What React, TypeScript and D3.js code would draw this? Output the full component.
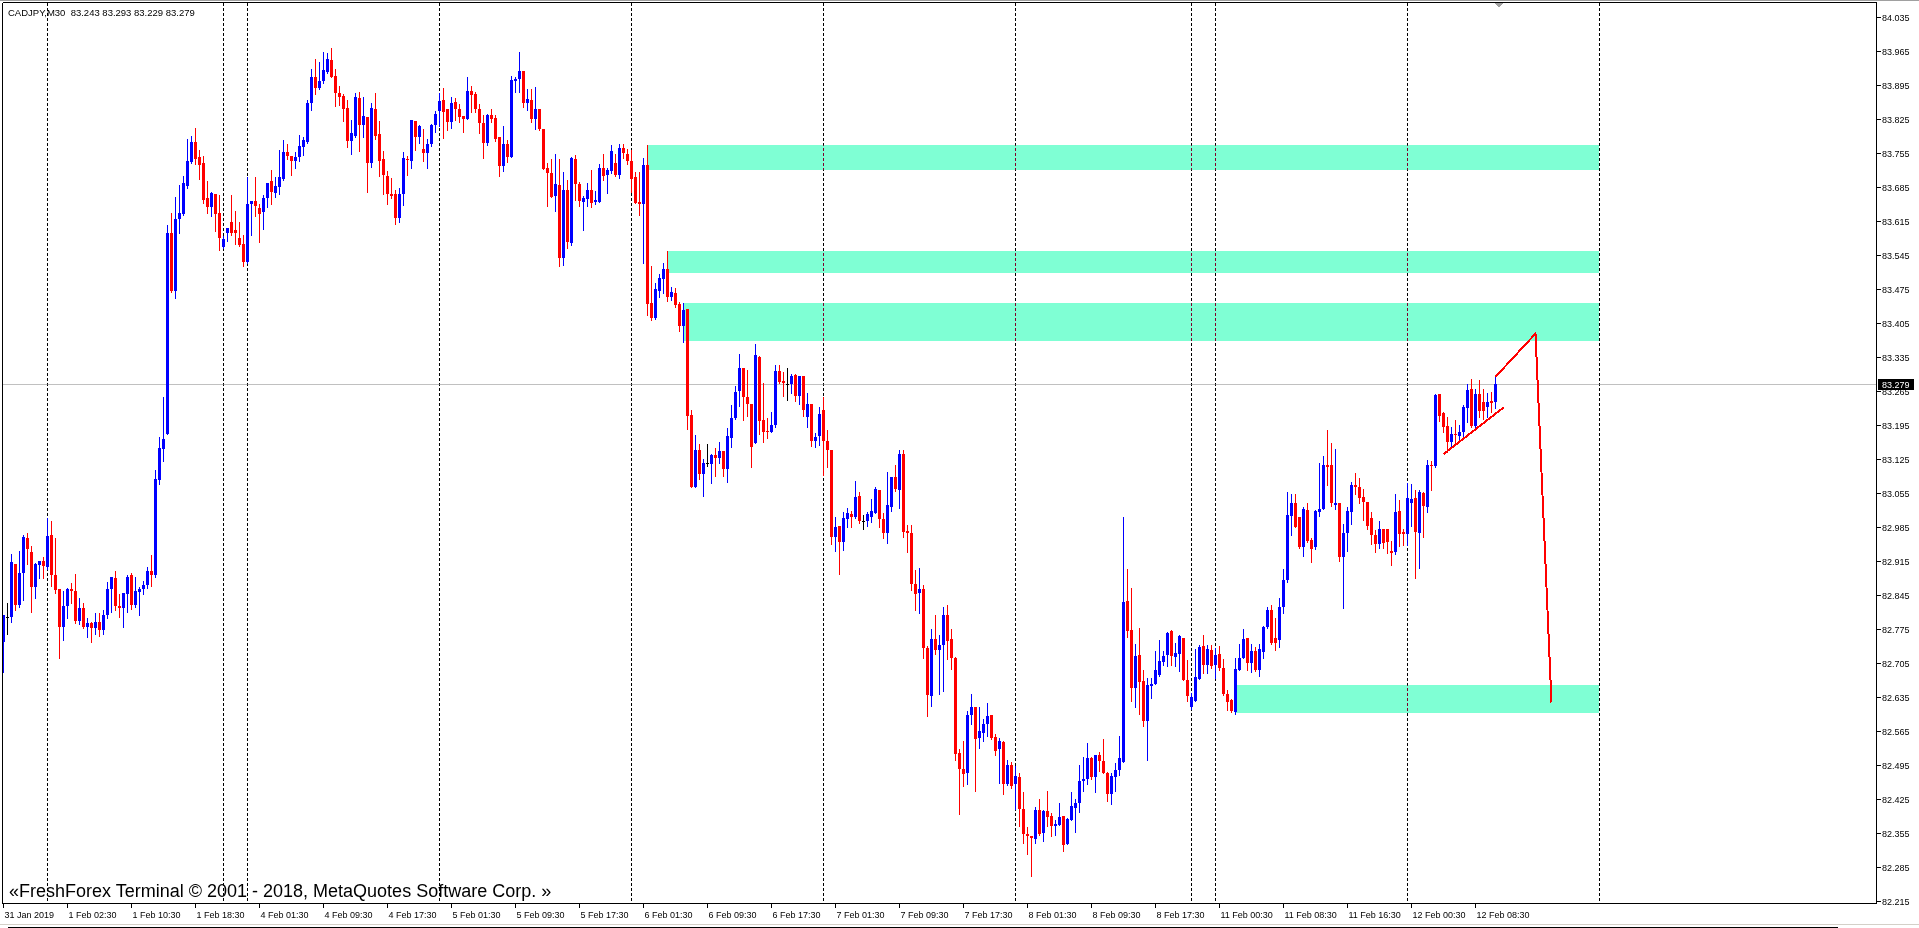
import React from "react";
import * as d3 from "d3";

const TITLE = "CADJPY,M30  83.243 83.293 83.229 83.279";
const WATERMARK = "«FreshForex Terminal © 2001 - 2018, MetaQuotes Software Corp. »";

// OHLC bars [open, high, low, close], M30, grouped by trading day
const BARS_31JAN = [
  [82.749, 82.805, 82.687, 82.805], [82.800, 82.829, 82.765, 82.800], [82.800, 82.930, 82.789, 82.913],
  [82.909, 82.909, 82.815, 82.824], [82.824, 82.935, 82.820, 82.890], [82.890, 82.968, 82.835, 82.965],
  [82.962, 82.973, 82.909, 82.939], [82.934, 82.945, 82.811, 82.862], [82.862, 82.911, 82.839, 82.909],
  [82.907, 82.915, 82.880, 82.915], [82.915, 82.923, 82.880, 82.905],
];
const BARS_01FEB = [
  [82.903, 83.003, 82.898, 82.967], [82.968, 82.998, 82.864, 82.886], [82.886, 82.962, 82.850, 82.856],
  [82.858, 82.858, 82.715, 82.779], [82.779, 82.853, 82.752, 82.823], [82.823, 82.860, 82.798, 82.858],
  [82.858, 82.870, 82.829, 82.854], [82.854, 82.888, 82.788, 82.792], [82.792, 82.839, 82.786, 82.818],
  [82.818, 82.829, 82.777, 82.779], [82.779, 82.797, 82.759, 82.788], [82.788, 82.789, 82.749, 82.777],
  [82.777, 82.809, 82.764, 82.789], [82.790, 82.809, 82.760, 82.773], [82.773, 82.815, 82.764, 82.805],
  [82.805, 82.871, 82.798, 82.858], [82.858, 82.883, 82.811, 82.883], [82.881, 82.894, 82.815, 82.823],
  [82.823, 82.847, 82.800, 82.819], [82.818, 82.849, 82.779, 82.849], [82.847, 82.886, 82.811, 82.883],
  [82.886, 82.890, 82.816, 82.824], [82.824, 82.883, 82.820, 82.853], [82.852, 82.862, 82.805, 82.858],
  [82.858, 82.875, 82.847, 82.865], [82.865, 82.903, 82.860, 82.894], [82.894, 82.928, 82.863, 82.886],
  [82.886, 83.103, 82.883, 83.084], [83.082, 83.170, 83.073, 83.148], [83.146, 83.253, 83.120, 83.167],
  [83.176, 83.607, 83.176, 83.590], [83.591, 83.632, 83.468, 83.470], [83.470, 83.664, 83.457, 83.618],
  [83.618, 83.688, 83.590, 83.632], [83.630, 83.707, 83.628, 83.692], [83.686, 83.784, 83.682, 83.738],
  [83.736, 83.789, 83.733, 83.777], [83.777, 83.805, 83.732, 83.743], [83.747, 83.760, 83.702, 83.730],
  [83.735, 83.748, 83.652, 83.658], [83.662, 83.696, 83.632, 83.643], [83.643, 83.675, 83.625, 83.672],
  [83.670, 83.670, 83.594, 83.630], [83.632, 83.668, 83.555, 83.579],
];
const BARS_03FEB = [
  [83.562, 83.584, 83.560, 83.578], [83.590, 83.600, 83.574, 83.600], [83.613, 83.668, 83.585, 83.591],
  [83.596, 83.636, 83.568, 83.589], [83.579, 83.613, 83.564, 83.566], [83.568, 83.585, 83.523, 83.530],
];
const BARS_04FEB = [
  [83.530, 83.705, 83.528, 83.649], [83.649, 83.655, 83.585, 83.655], [83.655, 83.705, 83.624, 83.645],
  [83.642, 83.649, 83.571, 83.630], [83.634, 83.668, 83.598, 83.662], [83.662, 83.692, 83.643, 83.692],
  [83.696, 83.719, 83.649, 83.675], [83.673, 83.705, 83.665, 83.686], [83.685, 83.760, 83.671, 83.705],
  [83.702, 83.782, 83.700, 83.756], [83.756, 83.773, 83.743, 83.748], [83.748, 83.748, 83.709, 83.739],
  [83.739, 83.756, 83.724, 83.746], [83.746, 83.792, 83.739, 83.769], [83.767, 83.787, 83.750, 83.782],
  [83.777, 83.863, 83.776, 83.857], [83.858, 83.927, 83.844, 83.911], [83.911, 83.948, 83.875, 83.888],
  [83.888, 83.942, 83.886, 83.903], [83.903, 83.963, 83.898, 83.925], [83.922, 83.961, 83.920, 83.948],
  [83.946, 83.971, 83.910, 83.911], [83.914, 83.927, 83.851, 83.878], [83.878, 83.892, 83.854, 83.869],
  [83.871, 83.875, 83.820, 83.845], [83.847, 83.863, 83.767, 83.779], [83.779, 83.822, 83.753, 83.796],
  [83.790, 83.878, 83.788, 83.869], [83.867, 83.880, 83.758, 83.813], [83.813, 83.869, 83.787, 83.830],
  [83.828, 83.828, 83.675, 83.733], [83.733, 83.858, 83.726, 83.847], [83.845, 83.878, 83.784, 83.790],
  [83.794, 83.820, 83.708, 83.739], [83.742, 83.759, 83.670, 83.709], [83.707, 83.717, 83.650, 83.670],
  [83.671, 83.704, 83.663, 83.666], [83.670, 83.678, 83.608, 83.621], [83.621, 83.682, 83.613, 83.671],
  [83.670, 83.756, 83.647, 83.745], [83.743, 83.749, 83.709, 83.741], [83.739, 83.822, 83.724, 83.822],
  [83.820, 83.820, 83.761, 83.788], [83.788, 83.812, 83.776, 83.810], [83.763, 83.804, 83.738, 83.755],
  [83.755, 83.783, 83.724, 83.774], [83.774, 83.814, 83.770, 83.812], [83.812, 83.840, 83.798, 83.835],
];
const BARS_05FEB = [
  [83.841, 83.877, 83.810, 83.862], [83.864, 83.888, 83.786, 83.838], [83.845, 83.845, 83.802, 83.819],
  [83.819, 83.870, 83.807, 83.858], [83.859, 83.867, 83.822, 83.845], [83.845, 83.855, 83.818, 83.829],
  [83.831, 83.831, 83.798, 83.824], [83.824, 83.910, 83.824, 83.882], [83.882, 83.893, 83.838, 83.874],
  [83.876, 83.881, 83.838, 83.845], [83.846, 83.855, 83.796, 83.817], [83.817, 83.833, 83.745, 83.776],
  [83.776, 83.835, 83.772, 83.833], [83.833, 83.846, 83.819, 83.824], [83.827, 83.833, 83.779, 83.783],
  [83.787, 83.788, 83.708, 83.728], [83.728, 83.810, 83.718, 83.774], [83.774, 83.781, 83.737, 83.747],
  [83.747, 83.912, 83.747, 83.905], [83.903, 83.910, 83.881, 83.906], [83.906, 83.962, 83.881, 83.923],
  [83.923, 83.923, 83.850, 83.857], [83.857, 83.886, 83.843, 83.865], [83.864, 83.886, 83.819, 83.824],
  [83.824, 83.890, 83.804, 83.845], [83.845, 83.846, 83.802, 83.804], [83.804, 83.804, 83.722, 83.722],
  [83.724, 83.735, 83.646, 83.714], [83.714, 83.742, 83.665, 83.665], [83.666, 83.752, 83.635, 83.691],
  [83.689, 83.742, 83.522, 83.539], [83.539, 83.715, 83.525, 83.678], [83.678, 83.699, 83.560, 83.572],
  [83.569, 83.747, 83.565, 83.745], [83.742, 83.750, 83.658, 83.691], [83.691, 83.695, 83.646, 83.656],
  [83.654, 83.667, 83.596, 83.663], [83.659, 83.692, 83.646, 83.678], [83.678, 83.719, 83.643, 83.652],
  [83.653, 83.676, 83.649, 83.658], [83.654, 83.731, 83.654, 83.724], [83.724, 83.752, 83.700, 83.708],
  [83.709, 83.724, 83.673, 83.719], [83.717, 83.771, 83.713, 83.759], [83.733, 83.752, 83.708, 83.709],
  [83.709, 83.774, 83.704, 83.765], [83.764, 83.774, 83.745, 83.755], [83.752, 83.762, 83.731, 83.739],
];
const BARS_06FEB = [
  [83.739, 83.761, 83.675, 83.701], [83.706, 83.716, 83.651, 83.652], [83.653, 83.715, 83.627, 83.650],
  [83.650, 83.745, 83.529, 83.730], [83.730, 83.771, 83.421, 83.444], [83.445, 83.522, 83.411, 83.416],
  [83.416, 83.488, 83.413, 83.475], [83.471, 83.505, 83.459, 83.498], [83.495, 83.529, 83.466, 83.515],
  [83.515, 83.553, 83.451, 83.459], [83.459, 83.479, 83.452, 83.468], [83.466, 83.477, 83.438, 83.442],
  [83.444, 83.447, 83.389, 83.399], [83.399, 83.445, 83.366, 83.431], [83.433, 83.433, 83.186, 83.214],
  [83.215, 83.226, 83.068, 83.068], [83.068, 83.174, 83.068, 83.143], [83.143, 83.156, 83.083, 83.095],
  [83.095, 83.125, 83.049, 83.116], [83.116, 83.156, 83.111, 83.116], [83.114, 83.136, 83.076, 83.134],
  [83.133, 83.147, 83.090, 83.128], [83.127, 83.159, 83.117, 83.141], [83.141, 83.141, 83.090, 83.104],
  [83.104, 83.188, 83.078, 83.172], [83.169, 83.236, 83.150, 83.210], [83.210, 83.276, 83.208, 83.263],
  [83.265, 83.341, 83.234, 83.313], [83.313, 83.313, 83.205, 83.252], [83.252, 83.308, 83.214, 83.238],
  [83.238, 83.238, 83.109, 83.150], [83.157, 83.361, 83.157, 83.339], [83.335, 83.337, 83.176, 83.204],
  [83.206, 83.282, 83.161, 83.181], [83.182, 83.209, 83.169, 83.180], [83.181, 83.222, 83.180, 83.195],
  [83.195, 83.318, 83.190, 83.306], [83.306, 83.318, 83.282, 83.284], [83.285, 83.303, 83.255, 83.281],
  [83.279, 83.312, 83.246, 83.279], [83.279, 83.300, 83.260, 83.296], [83.298, 83.300, 83.245, 83.255],
  [83.254, 83.296, 83.238, 83.296], [83.296, 83.296, 83.213, 83.226], [83.212, 83.260, 83.191, 83.239],
  [83.239, 83.239, 83.152, 83.163], [83.163, 83.179, 83.150, 83.171], [83.173, 83.231, 83.154, 83.217],
];
const BARS_07FEB = [
  [83.225, 83.253, 83.093, 83.163], [83.163, 83.185, 83.109, 83.143], [83.143, 83.143, 82.951, 82.965],
  [82.965, 83.006, 82.935, 82.986], [82.988, 82.988, 82.888, 82.955], [82.955, 83.015, 82.938, 83.004],
  [83.001, 83.025, 82.986, 83.013], [83.012, 83.019, 82.986, 83.006], [83.005, 83.080, 83.003, 83.047],
  [83.049, 83.058, 82.994, 82.998], [82.997, 83.010, 82.980, 82.997], [82.997, 83.016, 82.988, 83.011],
  [83.006, 83.042, 82.996, 83.018], [83.014, 83.068, 83.013, 83.063], [83.062, 83.062, 82.986, 83.001],
  [83.001, 83.013, 82.962, 82.972], [82.972, 83.099, 82.953, 83.030], [83.027, 83.088, 83.018, 83.088],
  [83.087, 83.112, 83.059, 83.063], [83.061, 83.143, 83.025, 83.136], [83.136, 83.143, 82.965, 82.974],
  [82.977, 82.989, 82.933, 82.972], [82.973, 82.990, 82.855, 82.867], [82.867, 82.896, 82.815, 82.848],
  [82.850, 82.900, 82.809, 82.857], [82.857, 82.866, 82.716, 82.737], [82.737, 82.740, 82.597, 82.639],
  [82.637, 82.775, 82.616, 82.754], [82.754, 82.804, 82.724, 82.733], [82.733, 82.763, 82.641, 82.742],
  [82.742, 82.821, 82.648, 82.804], [82.804, 82.824, 82.713, 82.750], [82.754, 82.775, 82.692, 82.715],
  [82.716, 82.718, 82.505, 82.519], [82.521, 82.529, 82.394, 82.487], [82.487, 82.545, 82.453, 82.477],
  [82.478, 82.606, 82.456, 82.599], [82.599, 82.641, 82.580, 82.614], [82.615, 82.615, 82.442, 82.548],
  [82.550, 82.614, 82.531, 82.565], [82.562, 82.591, 82.545, 82.579], [82.580, 82.622, 82.555, 82.596],
  [82.598, 82.598, 82.549, 82.551], [82.553, 82.559, 82.517, 82.524], [82.529, 82.550, 82.459, 82.545],
  [82.543, 82.545, 82.435, 82.456], [82.456, 82.505, 82.454, 82.496], [82.496, 82.502, 82.449, 82.453],
];
const BARS_08FEB = [
  [82.457, 82.494, 82.404, 82.472], [82.471, 82.479, 82.370, 82.404], [82.404, 82.440, 82.334, 82.353],
  [82.353, 82.368, 82.313, 82.350], [82.350, 82.350, 82.267, 82.346], [82.343, 82.409, 82.334, 82.402],
  [82.402, 82.425, 82.352, 82.354], [82.356, 82.402, 82.339, 82.401], [82.401, 82.442, 82.370, 82.389],
  [82.391, 82.396, 82.350, 82.370], [82.370, 82.383, 82.351, 82.375], [82.373, 82.418, 82.373, 82.389],
  [82.390, 82.390, 82.318, 82.330], [82.333, 82.387, 82.333, 82.385], [82.383, 82.440, 82.382, 82.411],
  [82.407, 82.425, 82.357, 82.418], [82.418, 82.495, 82.398, 82.463], [82.462, 82.512, 82.442, 82.466],
  [82.466, 82.541, 82.456, 82.509], [82.509, 82.512, 82.466, 82.470], [82.470, 82.517, 82.440, 82.517],
  [82.516, 82.523, 82.483, 82.503], [82.503, 82.548, 82.478, 82.479], [82.479, 82.481, 82.422, 82.435],
  [82.435, 82.478, 82.415, 82.472], [82.470, 82.499, 82.442, 82.485], [82.485, 82.555, 82.475, 82.509],
  [82.502, 83.006, 82.502, 82.831], [82.833, 82.898, 82.759, 82.771], [82.774, 82.860, 82.627, 82.654],
  [82.653, 82.744, 82.614, 82.720], [82.721, 82.778, 82.601, 82.667], [82.669, 82.691, 82.575, 82.586],
  [82.586, 82.675, 82.505, 82.660], [82.658, 82.675, 82.634, 82.663], [82.662, 82.730, 82.662, 82.690],
  [82.680, 82.752, 82.678, 82.710], [82.708, 82.730, 82.701, 82.719], [82.721, 82.769, 82.699, 82.767],
  [82.772, 82.773, 82.702, 82.720], [82.718, 82.747, 82.699, 82.725], [82.724, 82.763, 82.688, 82.760],
  [82.756, 82.756, 82.670, 82.671], [82.671, 82.712, 82.627, 82.637],
];
const BARS_10FEB = [
  [82.615, 82.644, 82.610, 82.636], [82.627, 82.734, 82.627, 82.677], [82.673, 82.742, 82.673, 82.738],
  [82.740, 82.763, 82.684, 82.701], [82.701, 82.743, 82.685, 82.735], [82.733, 82.742, 82.695, 82.699],
];
const BARS_11FEB = [
  [82.701, 82.736, 82.675, 82.721], [82.723, 82.740, 82.690, 82.694], [82.696, 82.713, 82.640, 82.642],
  [82.642, 82.649, 82.608, 82.625], [82.629, 82.632, 82.605, 82.607], [82.605, 82.715, 82.601, 82.692],
  [82.690, 82.744, 82.690, 82.715], [82.715, 82.776, 82.715, 82.754], [82.757, 82.757, 82.690, 82.706],
  [82.706, 82.745, 82.687, 82.730], [82.730, 82.738, 82.688, 82.690], [82.690, 82.744, 82.678, 82.735],
  [82.728, 82.781, 82.715, 82.780], [82.780, 82.821, 82.778, 82.814], [82.814, 82.824, 82.745, 82.747],
  [82.757, 82.797, 82.733, 82.747], [82.752, 82.839, 82.738, 82.821], [82.821, 82.898, 82.808, 82.876],
  [82.876, 83.058, 82.872, 83.010], [83.007, 83.054, 82.968, 83.035], [83.034, 83.054, 82.986, 82.986],
  [83.005, 83.006, 82.942, 82.943], [82.944, 83.027, 82.925, 83.023], [83.020, 83.035, 82.955, 82.957],
  [82.958, 82.962, 82.914, 82.940], [82.944, 83.020, 82.939, 83.018], [83.016, 83.116, 83.007, 83.023],
  [83.023, 83.132, 83.023, 83.112], [83.112, 83.185, 83.071, 83.109], [83.112, 83.157, 83.028, 83.034],
  [83.030, 83.145, 83.022, 83.035], [83.034, 83.034, 82.916, 82.924], [82.924, 82.992, 82.819, 82.972],
  [82.972, 83.027, 82.936, 83.018], [83.016, 83.078, 82.992, 83.071], [83.071, 83.097, 83.052, 83.068],
  [83.068, 83.086, 83.034, 83.044], [83.047, 83.063, 82.999, 83.037], [83.037, 83.037, 82.980, 82.987],
  [83.004, 83.016, 82.951, 82.968], [82.968, 82.979, 82.934, 82.951], [82.951, 82.997, 82.941, 82.980],
  [82.980, 82.980, 82.941, 82.953], [82.981, 82.981, 82.931, 82.955], [82.935, 82.956, 82.907, 82.931],
  [82.934, 83.053, 82.929, 83.016], [83.018, 83.040, 82.946, 82.970], [82.975, 82.982, 82.948, 82.970],
];
const BARS_12FEB = [
  [82.970, 83.076, 82.948, 83.044], [83.034, 83.073, 82.987, 83.042], [83.044, 83.061, 82.881, 82.975],
  [82.972, 83.061, 82.901, 83.058], [83.055, 83.058, 82.965, 83.028], [83.027, 83.123, 83.016, 83.112],
  [83.112, 83.121, 83.061, 83.110], [83.110, 83.259, 83.109, 83.257], [83.258, 83.258, 83.204, 83.213],
  [83.219, 83.222, 83.181, 83.191], [83.193, 83.212, 83.140, 83.160], [83.160, 83.191, 83.147, 83.176],
  [83.176, 83.205, 83.157, 83.174], [83.173, 83.195, 83.167, 83.181], [83.181, 83.236, 83.167, 83.232],
  [83.229, 83.279, 83.202, 83.267], [83.269, 83.289, 83.191, 83.193], [83.193, 83.270, 83.191, 83.259],
  [83.259, 83.287, 83.212, 83.224], [83.243, 83.270, 83.208, 83.224], [83.232, 83.261, 83.212, 83.243],
  [83.244, 83.263, 83.222, 83.241], [83.243, 83.293, 83.229, 83.279],
];

// bar index where each new day starts (period separators)
const DAY_START_BARS = [11, 55, 61, 109, 157, 205, 253, 297, 303, 351, 399];

const TIME_LABELS = [
  "31 Jan 2019", "1 Feb 02:30", "1 Feb 10:30", "1 Feb 18:30", "4 Feb 01:30", "4 Feb 09:30",
  "4 Feb 17:30", "5 Feb 01:30", "5 Feb 09:30", "5 Feb 17:30", "6 Feb 01:30", "6 Feb 09:30",
  "6 Feb 17:30", "7 Feb 01:30", "7 Feb 09:30", "7 Feb 17:30", "8 Feb 01:30", "8 Feb 09:30",
  "8 Feb 17:30", "11 Feb 00:30", "11 Feb 08:30", "11 Feb 16:30", "12 Feb 00:30", "12 Feb 08:30",
];
const TIME_LABEL_BARS = [
  0, 16, 32, 48, 64, 80, 96, 112, 128, 144, 160, 176,
  192, 208, 224, 240, 256, 272, 288, 304, 320, 336, 352, 368,
];

const PRICE_TICKS = [
  "84.035", "83.965", "83.895", "83.825", "83.755", "83.685", "83.615", "83.545", "83.475",
  "83.405", "83.335", "83.265", "83.195", "83.125", "83.055", "82.985", "82.915", "82.845",
  "82.775", "82.705", "82.635", "82.565", "82.495", "82.425", "82.355", "82.285", "82.215",
];

const BID = 83.279;

// supply / demand zones: [fromBar, toBar, upper price, lower price]
const ZONES = [
  [161, 399, 83.771, 83.720],
  [166, 399, 83.553, 83.508],
  [170, 399, 83.446, 83.368],
  [308, 399, 82.660, 82.603],
];

// hand-drawn trend lines: [bar, price]
const TRENDLINE = [[360, 83.135], [375, 83.231]];
const PROJECTION = [[373, 83.294], [383, 83.383], [387, 82.624]];

const W = 1919;
const H = 928;
const LEFT = 2.5;
const TOP = 2.5;
const RIGHT = 1876.5;
const BOTTOM = 903.5;
const FONT = "'Liberation Sans', Arial, sans-serif";

export default function App() {
  const bars = [
    ...BARS_31JAN, ...BARS_01FEB, ...BARS_03FEB, ...BARS_04FEB, ...BARS_05FEB, ...BARS_06FEB,
    ...BARS_07FEB, ...BARS_08FEB, ...BARS_10FEB, ...BARS_11FEB, ...BARS_12FEB,
  ];
  const x = d3.scaleLinear().domain([0, 1]).range([3.5, 7.5]);
  const y = d3.scaleLinear().domain([82.215, 84.035]).range([901.3, 16.7]);
  const px = (i: number) => Math.floor(x(i)) + 0.5;
  const py = (p: number) => Math.round(y(p));

  const lineGen = d3
    .line<number[]>()
    .x((d) => x(d[0]))
    .y((d) => y(d[1]));

  return (
    <svg
      width={W}
      height={H}
      style={{ position: "absolute", left: 0, top: 0, display: "block" }}
      shapeRendering="crispEdges"
    >
      <rect x={0} y={0} width={W} height={H} fill="#ffffff" />
      {/* window edges */}
      <line x1={0} x2={W} y1={0.5} y2={0.5} stroke="#a0a0a0" />
      <line x1={0} x2={W} y1={924.5} y2={924.5} stroke="#d4d0c8" />
      <line x1={8} x2={1838} y1={927.5} y2={927.5} stroke="#000000" />

      {/* zones */}
      {ZONES.map((z, k) => {
        const x0 = Math.floor(x(z[0]));
        const x1 = Math.floor(x(z[1]));
        const y0 = py(z[2]);
        const y1 = py(z[3]);
        return <rect key={"z" + k} x={x0} y={y0} width={x1 - x0} height={y1 - y0} fill="#7fffd4" />;
      })}

      {/* bid line */}
      <line x1={LEFT} x2={RIGHT} y1={py(BID) + 0.5} y2={py(BID) + 0.5} stroke="#c0c0c0" />

      {/* period separators */}
      <g style={{ mixBlendMode: "difference" }}>
        {DAY_START_BARS.map((b) => (
          <line
            key={"s" + b}
            x1={px(b)}
            x2={px(b)}
            y1={TOP + 0.5}
            y2={BOTTOM}
            stroke="#ffffff"
            strokeDasharray="3,2"
          />
        ))}
      </g>

      {/* candles */}
      {bars.map((b, i) => {
        const [o, h, l, c] = b;
        const cx = px(i);
        const color = c > o ? "#0000ff" : c < o ? "#ff0000" : "#000000";
        const yTop = py(Math.max(o, c));
        const yBot = py(Math.min(o, c));
        const yHi = py(Math.max(h, o, c));
        const yLo = py(Math.min(l, o, c));
        return (
          <g key={"c" + i}>
            <line x1={cx} x2={cx} y1={yHi} y2={yLo + 1} stroke={color} />
            {o === c ? (
              <line x1={cx - 1.5} x2={cx + 1.5} y1={yTop + 0.5} y2={yTop + 0.5} stroke={color} />
            ) : (
              <rect x={cx - 1.5} y={yTop} width={3} height={Math.max(1, yBot - yTop)} fill={color} />
            )}
          </g>
        );
      })}

      {/* drawn lines */}
      <path d={lineGen(TRENDLINE as number[][]) || ""} fill="none" stroke="#ff0000" strokeWidth={2} />
      <path d={lineGen(PROJECTION as number[][]) || ""} fill="none" stroke="#ff0000" strokeWidth={2} />

      {/* frame */}
      <line x1={LEFT} x2={RIGHT} y1={TOP} y2={TOP} stroke="#000" />
      <line x1={LEFT} x2={LEFT} y1={TOP} y2={BOTTOM} stroke="#000" />
      <line x1={RIGHT} x2={RIGHT} y1={TOP} y2={BOTTOM} stroke="#000" />
      <line x1={LEFT} x2={RIGHT} y1={BOTTOM} y2={BOTTOM} stroke="#000" />

      {/* chart shift marker */}
      <path d="M1495,3 L1503,3 L1499,8 Z" fill="#a0a0a0" />

      {/* price axis */}
      {PRICE_TICKS.map((t) => {
        const ty = py(+t) + 0.5;
        return (
          <g key={"p" + t}>
            <line x1={RIGHT} x2={RIGHT + 4} y1={ty} y2={ty} stroke="#000" />
            <text x={1882} y={ty + 3.5} fontFamily={FONT} fontSize={9} fill="#000">
              {t}
            </text>
          </g>
        );
      })}
      <rect x={1878} y={py(BID) - 5} width={36} height={11} fill="#000" />
      <text x={1882} y={py(BID) + 4} fontFamily={FONT} fontSize={9} fill="#fff">
        {BID.toFixed(3)}
      </text>

      {/* time axis */}
      {TIME_LABELS.map((t, k) => {
        const tx = px(TIME_LABEL_BARS[k]);
        return (
          <g key={"t" + k}>
            <line x1={tx} x2={tx} y1={BOTTOM} y2={BOTTOM + 4} stroke="#000" />
            <text x={tx + 1} y={917.5} fontFamily={FONT} fontSize={9} fill="#000">
              {t}
            </text>
          </g>
        );
      })}

      {/* texts */}
      <text x={8} y={15.5} fontFamily={FONT} fontSize={9.5} fill="#000">
        {TITLE.replace("  ", "\u00a0\u00a0")}
      </text>
      <text x={9} y={897} fontFamily={FONT} fontSize={18} fill="#000">
        {WATERMARK}
      </text>
    </svg>
  );
}
